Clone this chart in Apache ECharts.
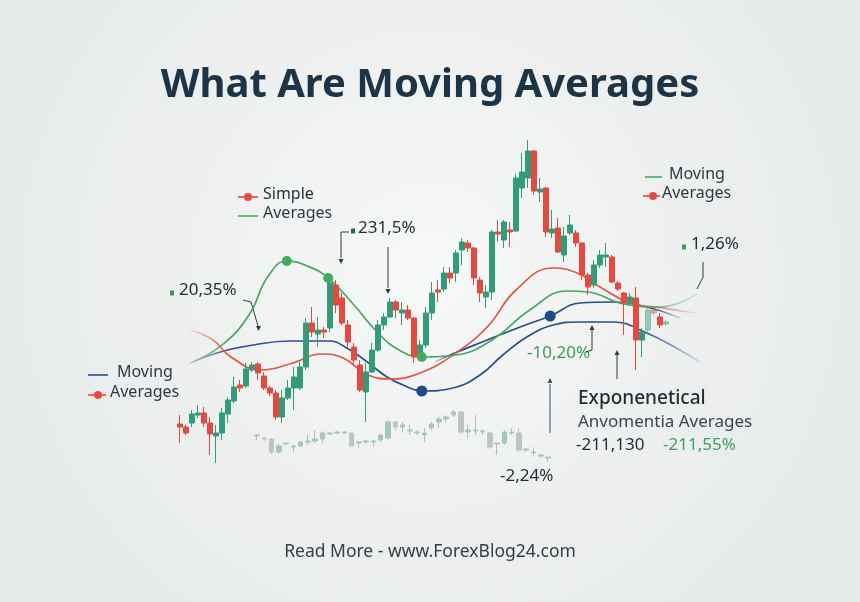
<!DOCTYPE html>
<html>
<head>
<meta charset="utf-8">
<script src="https://cdn.jsdelivr.net/npm/echarts@6/dist/echarts.min.js"></script>
<style>
  html, body { margin: 0; padding: 0; }
  #chart { width: 860px; height: 602px; }
</style>
</head>
<body>
<div id="chart"></div>
<script>
// price candles [open, close, low, high]
const candles = [
  [56, 53, 37, 65], [53, 47, 45, 55], [57, 66, 53, 70], [65, 67, 62, 75], [67, 57, 53, 73],
  [57, 46, 25, 63], [44, 47, 17, 55], [47, 67, 40, 72], [66, 80, 57, 83], [79, 93, 77, 103],
  [95, 92, 88, 100], [94, 111, 92, 117], [110, 115, 108, 118], [116, 107, 100, 118], [104, 92, 90, 108],
  [92, 87, 84, 94], [87, 63, 60, 90], [63, 82, 57, 90], [82, 92, 80, 100], [92, 103, 70, 113],
  [92, 113, 90, 118], [113, 157, 110, 162], [157, 148, 143, 173], [146, 150, 133, 163], [150, 148, 142, 153],
  [152, 197, 148, 202], [195, 175, 167, 200], [182, 157, 155, 187], [155, 138, 132, 160], [133, 120, 115, 137],
  [115, 90, 88, 120], [88, 108, 58, 117], [108, 130, 107, 137], [130, 155, 128, 160], [155, 163, 150, 167],
  [163, 178, 162, 182], [178, 170, 162, 180], [167, 170, 155, 178], [170, 162, 160, 175], [162, 123, 117, 163],
  [125, 135, 123, 140], [135, 167, 132, 173], [167, 187, 160, 198], [190, 188, 178, 200], [191, 207, 188, 213],
  [207, 202, 197, 213], [207, 227, 198, 230], [230, 238, 215, 242], [237, 232, 228, 240], [232, 202, 195, 233],
  [200, 187, 178, 203], [183, 188, 172, 195], [188, 248, 180, 250], [248, 246, 238, 260], [240, 258, 232, 260],
  [250, 248, 233, 258], [249, 302, 248, 306], [292, 308, 282, 327], [302, 329, 292, 340], [329, 289, 285, 330],
  [288, 291, 278, 302], [292, 248, 243, 293], [247, 251, 242, 270], [252, 228, 227, 262], [225, 244, 218, 253],
  [247, 255, 245, 265], [247, 237, 233, 250], [237, 205, 200, 238], [205, 193, 185, 207], [195, 215, 192, 220],
  [215, 225, 212, 230], [223, 225, 213, 237], [223, 198, 197, 225], [197, 191, 189, 199], [187, 177, 145, 188],
  [177, 183, 174, 187], [182, 140, 110, 193], [140, 148, 123, 152], [150, 170, 148, 173], [170, 167, 164, 172],
  [163, 155, 152, 167], [156, 158, 154, 160]
];
const sessionCount = 88;

// faded background candles [open, close, low, high]
const ghostCandles = [
  [44, 45, 40, 46], [42, 41, 39, 43], [41, 28, 26, 42], [28, 34, 26, 36], [36, 37, 35, 37],
  [33, 34, 28, 35], [34, 38, 33, 39], [38, 39, 35, 45], [39, 41, 37, 50], [41, 47, 37, 49],
  [46, 47, 45, 48], [47, 48, 46, 49], [47, 48, 46, 49], [47, 34, 33, 48], [37, 38, 32, 39],
  [38, 39, 36, 40], [38, 39, 33, 40], [40, 45, 38, 46], [42, 58, 40, 60], [58, 53, 50, 59],
  [53, 55, 47, 58], [49, 50, 45, 55], [47, 48, 45, 50], [45, 47, 38, 52], [52, 56, 50, 58],
  [58, 61, 52, 63], [61, 63, 57, 65], [65, 68, 63, 70], [68, 48, 46, 69], [48, 50, 42, 55],
  [49, 50, 45, 65], [48, 49, 45, 51], [47, 33, 31, 48], [36, 37, 25, 37], [37, 48, 35, 50],
  [47, 48, 45, 52], [47, 30, 28, 52], [30, 31, 28, 32], [27, 28, 23, 33], [24, 25, 22, 26],
  [22, 23, 18, 23]
];

// moving average curves [session, value]
const greenAvg = [
  [1.7, 117], [7, 135], [11.5, 165], [14.6, 203], [17.8, 219], [21.2, 214], [24.7, 202],
  [29, 175], [33, 147], [36.5, 130], [40.3, 123], [46, 125], [52, 140], [58.3, 170],
  [64.5, 189], [68, 188], [74, 176], [80, 173], [86.2, 186]
];
const redAvg = [
  [1.7, 150], [5.5, 140], [8.5, 123], [13.5, 110], [18.8, 117], [23.5, 126], [27.2, 122],
  [31, 106], [35, 101], [40, 107], [45.5, 125], [51.2, 153], [56, 190], [62.2, 212],
  [66.2, 207], [70, 193], [75, 177], [80.5, 172], [85.8, 167]
];
const blueAvg = [
  [1.7, 117], [6.7, 128], [12.2, 135], [18.3, 139], [25, 139], [27.8, 132], [31.2, 118],
  [34.5, 103], [37.2, 95], [40.3, 89], [45.5, 92], [50, 105], [53.8, 125], [57.8, 143],
  [62.2, 155], [66.7, 158], [72.2, 158], [77.8, 147], [83.3, 130], [86.7, 118]
];
const blueFastAvg = [
  [42.5, 118], [45, 125], [51.2, 140], [56.7, 153], [61.7, 164], [66.7, 177], [72.2, 178],
  [77.8, 173], [83.3, 162]
];
const greenDots = [[17.8, 219], [24.7, 202], [40.3, 123]];
const blueDots = [[40.3, 89], [61.7, 164]];

const fadedCandles = [78, 79, 81];

const chart = echarts.init(document.getElementById('chart'));

const GREEN = '#2f9d78';
const RED = '#e8483d';
const LINE_GREEN = '#44aa62';
const BLUE = '#27508a';
const INK = '#1f2c36';

const fade = (rgb) =>
  new echarts.graphic.LinearGradient(0, 0, 1, 0, [
    { offset: 0, color: 'rgba(' + rgb + ',0.1)' },
    { offset: 0.08, color: 'rgba(' + rgb + ',1)' },
    { offset: 0.88, color: 'rgba(' + rgb + ',1)' },
    { offset: 1, color: 'rgba(' + rgb + ',0.1)' },
  ]);

const txt = (x, y, text, size, color, weight) => ({
  type: 'text',
  left: x,
  top: y - size * 0.68,
  silent: true,
  style: {
    text: text,
    fill: color,
    font: (weight || 'normal') + ' ' + size + 'px "Noto Sans", sans-serif',
  },
});
const seg = (pts, color, w) => ({
  type: 'polyline',
  silent: true,
  shape: { points: pts },
  style: { stroke: color || '#2d3a44', lineWidth: w || 1, fill: null },
});
const arrowDown = (x, y, color) => ({
  type: 'polygon',
  silent: true,
  shape: { points: [[x - 2.5, y - 5], [x + 2.5, y - 5], [x, y]] },
  style: { fill: color || '#2d3a44' },
});
const arrowUp = (x, y, color) => ({
  type: 'polygon',
  silent: true,
  shape: { points: [[x - 2.5, y + 5], [x + 2.5, y + 5], [x, y]] },
  style: { fill: color || '#2d3a44' },
});
const dot = (x, y, color) => ({
  type: 'circle',
  silent: true,
  shape: { cx: x, cy: y, r: 4 },
  style: { fill: color },
});
const square = (x, y, color) => ({
  type: 'rect',
  silent: true,
  shape: { x: x, y: y - 2.5, width: 4, height: 5 },
  style: { fill: color },
});

const option = {
  animation: false,
  backgroundColor: new echarts.graphic.RadialGradient(0.5, 0.45, 0.75, [
    { offset: 0, color: '#f7f8f8' },
    { offset: 1, color: '#e7eaea' },
  ]),
  title: {
    text: 'What Are Moving Averages',
    left: 'center',
    top: 61,
    textStyle: {
      fontFamily: '"Noto Sans", sans-serif',
      fontSize: 40,
      fontWeight: 'bold',
      color: '#1c3445',
    },
  },
  grid: [
    { left: 177, top: 120, width: 528, height: 360 },
    { left: 253.4, top: 120, width: 298.3, height: 360 },
  ],
  xAxis: [
    {
      type: 'category',
      gridIndex: 0,
      data: Array.from({ length: sessionCount }, (_, i) => 'S' + (i + 1)),
      show: false,
    },
    { type: 'value', gridIndex: 0, min: -0.5, max: sessionCount - 0.5, show: false },
    {
      type: 'category',
      gridIndex: 1,
      data: ghostCandles.map((_, i) => 'G' + (i + 1)),
      show: false,
    },
  ],
  yAxis: [
    { type: 'value', gridIndex: 0, min: 0, max: 360, show: false },
    { type: 'value', gridIndex: 1, min: 0, max: 360, show: false },
  ],
  series: [
    {
      type: 'candlestick',
      xAxisIndex: 2,
      yAxisIndex: 1,
      barWidth: 5,
      itemStyle: {
        color: '#a6c6ba',
        color0: '#c0c3c4',
        borderColor: '#a6c6ba',
        borderColor0: '#c0c3c4',
        borderWidth: 1,
      },
      data: ghostCandles,
    },
    {
      type: 'line',
      xAxisIndex: 1,
      yAxisIndex: 0,
      smooth: 0.45,
      showSymbol: false,
      lineStyle: { width: 1.7, color: fade('39,80,138') },
      data: blueAvg,
      z: 3,
    },
    {
      type: 'line',
      xAxisIndex: 1,
      yAxisIndex: 0,
      smooth: 0.45,
      showSymbol: false,
      lineStyle: { width: 1.7, color: fade('39,80,138') },
      data: blueFastAvg,
      z: 3,
    },
    {
      type: 'line',
      xAxisIndex: 1,
      yAxisIndex: 0,
      smooth: 0.45,
      showSymbol: false,
      lineStyle: { width: 1.7, color: fade('228,83,63') },
      data: redAvg,
      z: 3,
    },
    {
      type: 'line',
      xAxisIndex: 1,
      yAxisIndex: 0,
      smooth: 0.45,
      showSymbol: false,
      lineStyle: { width: 1.7, color: fade('68,170,98') },
      data: greenAvg,
      z: 3,
    },
    {
      type: 'candlestick',
      xAxisIndex: 0,
      yAxisIndex: 0,
      barWidth: 5,
      itemStyle: {
        color: GREEN,
        color0: RED,
        borderColor: GREEN,
        borderColor0: RED,
        borderWidth: 1,
      },
      data: candles.map((c, i) =>
        fadedCandles.includes(i) ? { value: c, itemStyle: { opacity: 0.45 } } : c
      ),
      z: 4,
    },
    {
      type: 'scatter',
      xAxisIndex: 1,
      yAxisIndex: 0,
      symbolSize: 10,
      itemStyle: { color: LINE_GREEN, opacity: 1 },
      data: greenDots,
      z: 5,
    },
    {
      type: 'scatter',
      xAxisIndex: 1,
      yAxisIndex: 0,
      symbolSize: 11,
      itemStyle: { color: '#1f4a8a', opacity: 1 },
      data: blueDots,
      z: 5,
    },
  ],
  graphic: [
    // legend-like keys
    seg([[238, 197], [258, 197]], RED, 1.6), dot(248, 197, RED), txt(263, 197, 'Simple', 16, INK),
    seg([[238, 216], [258, 216]], LINE_GREEN, 1.6), txt(263, 216, 'Averages', 16, '#2d3a44'),
    seg([[88, 375], [108, 375]], BLUE, 1.6), txt(117, 375, 'Moving', 16, '#2d3a44'),
    seg([[88, 395], [106, 395]], RED, 1.6), dot(98, 395, RED), txt(110, 395, 'Averages', 16, '#2d3a44'),
    seg([[645, 177], [662, 177]], LINE_GREEN, 1.6), txt(669, 177, 'Moving', 16, '#2d3a44'),
    seg([[643, 196], [660, 196]], RED, 1.6), dot(653, 196, RED), txt(662, 196, 'Averages', 16, '#2d3a44'),

    // callouts
    square(170, 293, '#2f9d55'), txt(179, 293, '20,35%', 17, INK),
    seg([[243, 300], [251, 302], [258, 326]]), arrowDown(258.5, 331),
    square(351, 231, '#1f6e45'), txt(358, 231, '231,5%', 17, INK),
    seg([[349, 232], [341, 232], [341, 258]]), arrowDown(341, 264),
    seg([[388, 247], [388, 288]]), arrowDown(388, 294),
    square(682, 247, '#3aa05f'), txt(691, 247, '1,26%', 17, INK),
    seg([[703, 262], [703, 277], [697, 289]]),
    txt(527, 356, '-10,20%', 17, '#3b9a5a'),
    seg([[586, 352], [592, 350], [592, 330]]), arrowUp(592, 325),
    seg([[617, 379], [617, 355]]), arrowUp(617, 350),
    seg([[550, 433], [550, 384]], '#3a5470'), arrowUp(550, 378, '#3a5470'),
    txt(500, 479, '-2,24%', 17, INK),

    txt(578, 402, 'Exponenetical', 19, INK, '500'),
    txt(578, 425, 'Anvomentia Averages', 17, '#39464f'),
    txt(576, 448, '-211,130', 17, INK),
    txt(663, 448, '-211,55%', 17, '#3aa05f'),

    {
      type: 'text',
      left: 'center',
      top: 543,
      silent: true,
      style: {
        text: 'Read More - www.ForexBlog24.com',
        fill: '#343e46',
        font: '17.5px "Noto Sans", sans-serif',
      },
    },
  ],
};

chart.setOption(option);
</script>
</body>
</html>
